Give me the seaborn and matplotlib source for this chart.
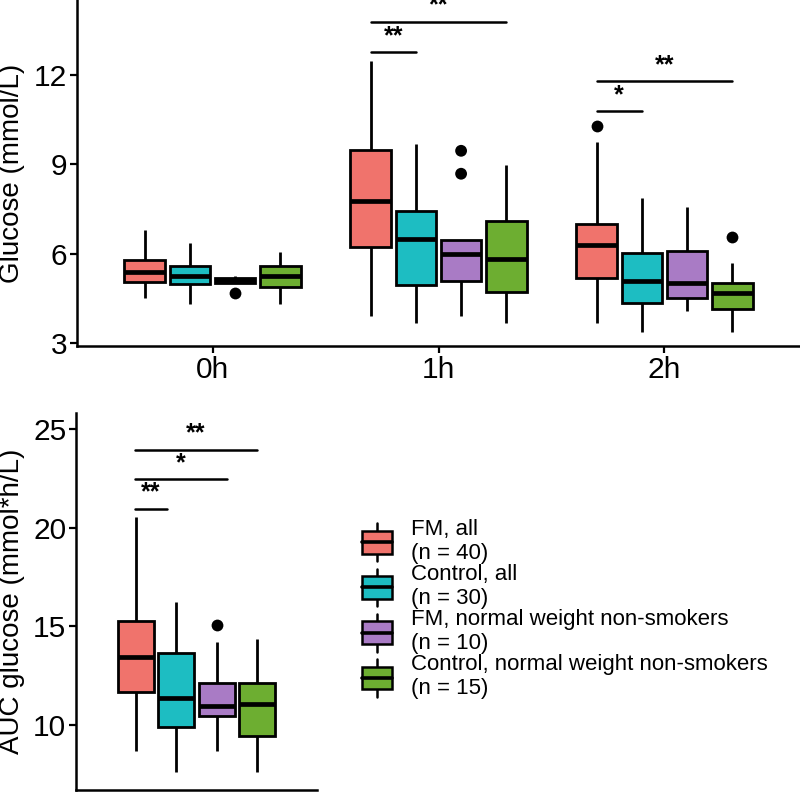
import numpy as np
import pandas as pd
import matplotlib
matplotlib.use("Agg")
import matplotlib.pyplot as plt
import seaborn as sns
from matplotlib.patches import Rectangle
from matplotlib.lines import Line2D
from matplotlib.legend_handler import HandlerBase

# ---- data (box summary stats) ----
time_points = ["0h", "1h", "2h"]
groups = ["FM, all", "Control, all", "FM, normal weight non-smokers",
          "Control, normal weight non-smokers"]
group_n = [40, 30, 10, 15]
colors = ["#F0736C", "#1DBDC2", "#A97BC5", "#6DAE31"]

# glucose per time point, one row per group: low whisker, q1, median, q3, high whisker
glu_0h = [[4.51, 5.05, 5.38, 5.79, 6.79],
          [4.31, 4.98, 5.25, 5.60, 6.36],
          [5.00, 5.02, 5.10, 5.18, 5.26],
          [4.31, 4.87, 5.25, 5.60, 6.05]]
glu_1h = [[3.90, 6.21, 7.77, 9.48, 12.46],
          [3.68, 4.95, 6.49, 7.43, 9.68],
          [3.90, 5.09, 5.99, 6.46, 6.46],
          [3.68, 4.72, 5.81, 7.09, 8.97]]
glu_2h = [[3.68, 5.17, 6.29, 7.00, 9.75],
          [3.38, 4.34, 5.08, 6.02, 7.87],
          [4.09, 4.52, 5.01, 6.09, 7.56],
          [3.38, 4.14, 4.68, 5.01, 5.68]]
# outliers: (time, group index, value)
glu_outliers = [("0h", 2, 4.68), ("1h", 2, 8.68), ("1h", 2, 9.45),
                ("2h", 0, 10.28), ("2h", 3, 6.56)]

auc = [[8.69, 11.67, 13.43, 15.30, 20.55],
       [7.63, 9.90, 11.36, 13.64, 16.26],
       [8.69, 10.45, 10.96, 12.12, 14.19],
       [7.63, 9.44, 11.06, 12.12, 14.39]]
auc_outliers = [(2, 15.10)]

# significance brackets: (x start, x end, y, label y, label)
glu_sig = [(0.7, 0.9, 12.77, 13.30, "**"), (0.7, 1.3, 13.77, 14.32, "**"),
           (1.7, 1.9, 10.80, 11.30, "*"), (1.7, 2.3, 11.79, 12.32, "**")]
auc_sig = [(-0.306, -0.147, 20.96, 21.80, "**"), (-0.306, 0.152, 22.47, 23.28, "*"),
           (-0.306, 0.301, 23.94, 24.78, "**")]

# ---- build long tables ----
rows = []
for t, stats in zip(time_points, [glu_0h, glu_1h, glu_2h]):
    for g, s in zip(groups, stats):
        for v in s:
            rows.append((t, g, v))
glu_df = pd.DataFrame(rows, columns=["time", "group", "glucose"])
glu_out_df = pd.DataFrame([(t, groups[i], v) for t, i, v in glu_outliers],
                          columns=["time", "group", "glucose"])

auc_df = pd.DataFrame([("all", g, v) for g, s in zip(groups, auc) for v in s],
                      columns=["x", "group", "auc"])
auc_out_df = pd.DataFrame([("all", groups[i], v) for i, v in auc_outliers],
                          columns=["x", "group", "auc"])

sns.set_theme(style="ticks")
plt.rcParams["font.family"] = ["Liberation Sans", "DejaVu Sans"]
plt.rcParams["text.color"] = "black"
plt.rcParams["axes.labelcolor"] = "black"

palette = dict(zip(groups, colors))
box_kw = dict(whis=(0, 100), showfliers=False, showcaps=False, saturation=1,
              gap=0.1, width=0.8, linecolor="black", linewidth=2.0,
              medianprops=dict(linewidth=3.4, color="black"),
              legend=False)

fig = plt.figure(figsize=(8, 7.93), dpi=100)
ax1 = fig.add_axes([77 / 800, 1 - 346 / 793, 723 / 800, 346 / 793])
ax2 = fig.add_axes([76 / 800, 1 - 790 / 793, 241 / 800, 377 / 793])

# top panel
sns.boxplot(data=glu_df, x="time", y="glucose", hue="group", order=time_points,
            hue_order=groups, palette=palette, ax=ax1, **box_kw)
sns.stripplot(data=glu_out_df, x="time", y="glucose", hue="group", order=time_points,
              hue_order=groups, dodge=True, jitter=False,
              palette=["black"] * 4, size=8.5, ax=ax1, legend=False)
ax1.set_xlim(-0.6, 2.6)
ax1.set_ylim(2.9, 14.51)
ax1.set_yticks([3, 6, 9, 12])
ax1.set_xlabel("")
ax1.set_ylabel("Glucose (mmol/L)", fontsize=20)
ax1.yaxis.set_label_coords((25 - 77) / 723, 0.5)
for x0, x1, y, ly, lab in glu_sig:
    ax1.plot([x0, x1], [y, y], color="black", lw=1.8, clip_on=False)
    ax1.text((x0 + x1) / 2, ly, lab, ha="center", va="center", fontsize=18,
             fontweight="bold", clip_on=False)

# bottom panel
sns.boxplot(data=auc_df, x="x", y="auc", hue="group", hue_order=groups,
            palette=palette, ax=ax2, **box_kw)
sns.stripplot(data=auc_out_df, x="x", y="auc", hue="group", hue_order=groups,
              dodge=True, jitter=False, palette=["black"] * 4, size=8.5, ax=ax2,
              legend=False)
ax2.set_xlim(-0.6, 0.6)
ax2.set_ylim(6.72, 25.81)
ax2.set_yticks([10, 15, 20, 25])
ax2.set_xticks([])
ax2.set_xlabel("")
ax2.set_ylabel("AUC glucose (mmol*h/L)", fontsize=20)
ax2.yaxis.set_label_coords((25 - 76) / 241, 0.5)
for x0, x1, y, ly, lab in auc_sig:
    ax2.plot([x0, x1], [y, y], color="black", lw=1.8, clip_on=False)
    ax2.text((x0 + x1) / 2, ly, lab, ha="center", va="center", fontsize=18,
             fontweight="bold", clip_on=False)

for ax in (ax1, ax2):
    sns.despine(ax=ax)
    for sp in ("left", "bottom"):
        ax.spines[sp].set_linewidth(1.8)
        ax.spines[sp].set_color("black")
    ax.tick_params(labelsize=21.5, length=5, width=1.6, color="black",
                   labelcolor="black", pad=2)


# legend with little boxplot keys
class BoxHandler(HandlerBase):
    def create_artists(self, legend, orig_handle, xd, yd, w, h, fontsize, trans):
        x0, y0 = -xd, -yd
        cx = x0 + w / 2
        fc = orig_handle.get_facecolor()
        box = Rectangle((x0, y0 + 0.2 * h), w, 0.6 * h, facecolor=fc,
                        edgecolor="black", lw=1.8, transform=trans)
        med = Line2D([x0, x0 + w], [y0 + h / 2] * 2, color="black", lw=2.6,
                     transform=trans)
        wl = Line2D([cx, cx], [y0, y0 + 0.2 * h], color="black", lw=1.8,
                    transform=trans)
        wh = Line2D([cx, cx], [y0 + 0.8 * h, y0 + h], color="black", lw=1.8,
                    transform=trans)
        return [wl, wh, box, med]


handles = [Rectangle((0, 0), 1, 1, facecolor=c) for c in colors]
labels = [f"{g}\n(n = {n})" for g, n in zip(groups, group_n)]
leg = fig.legend(handles, labels, handler_map={Rectangle: BoxHandler()},
                 loc="center left", bbox_to_anchor=(362 / 800, 1 - 609 / 793),
                 frameon=False, fontsize=16, handlelength=1.35, handleheight=2.25,
                 handletextpad=0.85, labelspacing=0.0, borderpad=0, borderaxespad=0)
for t in leg.get_texts():
    t.set_linespacing(1.2)
    t.set_color("black")

fig.savefig("out.png", dpi=100)
